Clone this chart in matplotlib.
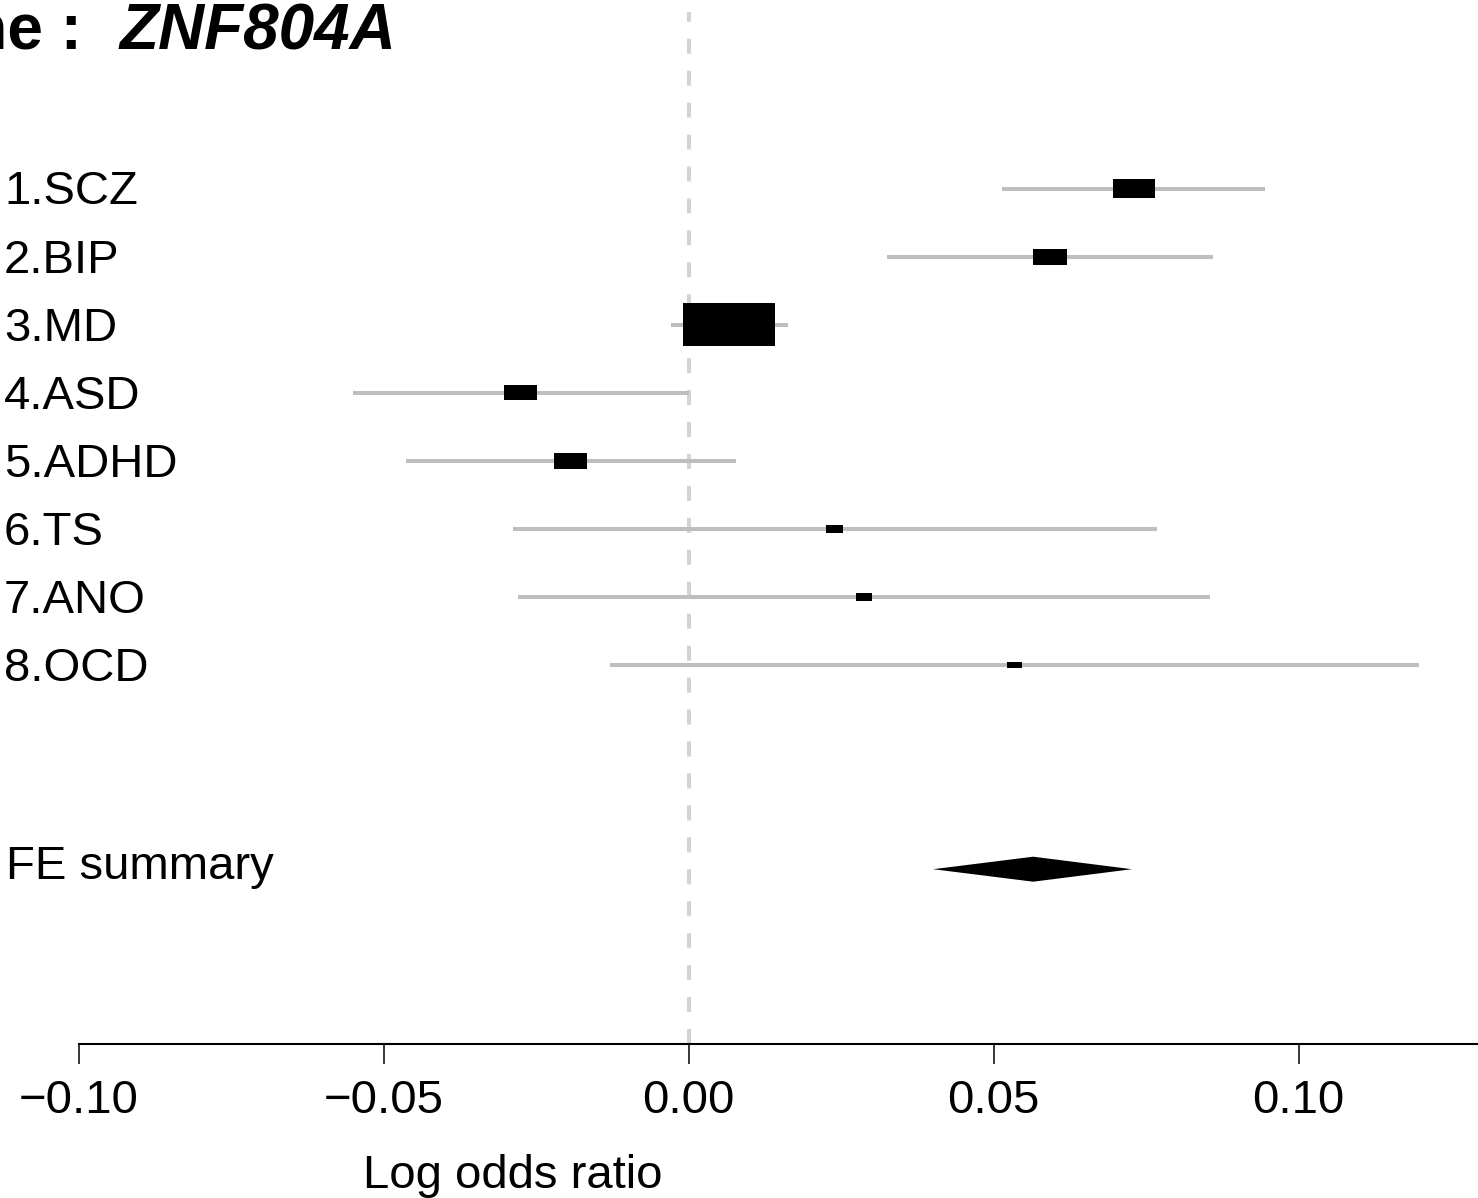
import matplotlib
matplotlib.use("Agg")
import matplotlib.pyplot as plt

plt.rcParams['font.family'] = ['Liberation Sans', 'DejaVu Sans']
plt.rcParams['lines.scale_dashes'] = False

# data
gene = "ZNF804A"
labels = ["1.SCZ", "2.BIP", "3.MD", "4.ASD", "5.ADHD", "6.TS", "7.ANO", "8.OCD"]
estimate = [0.0730, 0.0593, 0.0067, -0.0275, -0.0193, 0.0239, 0.0288, 0.0534]
ci_lower = [0.0514, 0.0325, -0.0029, -0.0550, -0.0463, -0.0288, -0.0280, -0.0129]
ci_upper = [0.0945, 0.0860, 0.0163, 0.0000, 0.0078, 0.0768, 0.0855, 0.1198]
box_size = [0.45, 0.37, 1.00, 0.36, 0.36, 0.185, 0.175, 0.16]   # relative weights
summary_label = "FE summary"
summary_est = 0.0565
summary_lower = 0.0401
summary_upper = 0.0727
xticks = [-0.10, -0.05, 0.00, 0.05, 0.10]

W, H, DPI = 1478, 1198, 100
# pixel layout of the reference
x0_px, px_per_unit = 688.5, 6100.0
row1_px, row_px = 188.5, 68.07

fig = plt.figure(figsize=(W / DPI, H / DPI), dpi=DPI)
ax = fig.add_axes([0, 0, 1, 1])
ax.set_xlim(-x0_px / px_per_unit, (W - x0_px) / px_per_unit)
ax.set_ylim(1 + (H - row1_px) / row_px, 1 - row1_px / row_px)

rows = list(range(1, len(labels) + 1))
summary_row = len(labels) + 3
axis_row = 1 + (1044 - row1_px) / row_px
top_row = 1 - (row1_px - 12) / row_px

# zero line, drawn from the axis upwards
ax.plot([0, 0], [axis_row, top_row], color='#d3d3d3', lw=2.9,
        linestyle=(0, (10.8, 12.2)), solid_capstyle='butt', zorder=1)

# confidence intervals
ax.hlines(rows, ci_lower, ci_upper, color='#bebebe', lw=2.9, zorder=2)

# boxes
box_w = [s * 92 / px_per_unit for s in box_size]
box_h = [s * 43 / row_px for s in box_size]
left = [e - w / 2 for e, w in zip(estimate, box_w)]
ax.barh(rows, box_w, left=left, height=box_h, color='black', zorder=3)

# summary diamond
half_h = 12.5 / row_px
ax.fill([summary_lower, summary_est, summary_upper, summary_est],
        [summary_row, summary_row - half_h, summary_row, summary_row + half_h],
        color='black', lw=0, zorder=3)

# row labels
tr = ax.get_yaxis_transform()
for r, lab in zip(rows, labels):
    ax.text(4 / W, r + 4 / row_px, lab, transform=tr, fontsize=34,
            va='center', ha='left')
ax.text(6 / W, summary_row - 2 / row_px, summary_label, transform=tr,
        fontsize=34, va='center', ha='left')

# x axis
for s in ['top', 'left', 'right']:
    ax.spines[s].set_visible(False)
ax.spines['bottom'].set_position(('data', axis_row))
ax.spines['bottom'].set_bounds(-0.10, ax.get_xlim()[1])
ax.spines['bottom'].set_linewidth(1.5)
ax.set_yticks([])
ax.set_xticks(xticks)
ax.set_xticklabels([f"{t:.2f}".replace('-', '\u2212') for t in xticks])
ax.tick_params(axis='x', direction='out', length=14.4, width=1.1,
               labelsize=34, pad=10.5)
ax.set_xlabel("Log odds ratio", fontsize=34)
ax.xaxis.set_label_coords(513 / W, 1 - 1154 / H)
ax.xaxis.label.set_va('top')

# title, cut off on the left as in the original
fig.text(82 / W, 1 - 50 / H, "Gene :", fontsize=46, fontweight='bold',
         ha='right', va='baseline')
fig.text(120 / W, 1 - 50 / H, gene, fontsize=46, fontweight='bold',
         fontstyle='italic', ha='left', va='baseline')

fig.savefig("out.png", dpi=DPI)
